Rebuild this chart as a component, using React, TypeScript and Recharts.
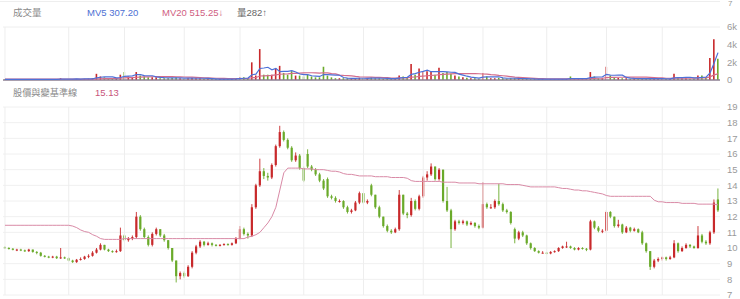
import { Bar, Cell, ComposedChart, CartesianGrid, Line, ReferenceLine, XAxis, YAxis } from "recharts";

// price candles (TWD)
const opens = [
  10.05, 10.0, 9.95, 9.85, 9.9, 9.85, 9.8, 9.9, 9.75, 9.7,
  9.5, 9.45, 9.4, 9.45, 9.35, 9.4, 9.35, 9.2, 9.1, 9.25,
  9.3, 9.45, 9.5, 9.7, 9.9, 10.2, 9.9, 9.8, 9.75, 9.8,
  10.8, 10.5, 10.6, 10.7, 12.0, 11.2, 10.7, 10.2, 10.9, 11.2,
  10.8, 10.5, 10.0, 9.2, 8.2, 8.4, 8.2, 8.8, 9.7, 10.1,
  10.4, 10.2, 10.3, 10.2, 10.15, 10.2, 10.25, 10.2, 10.3, 10.6,
  11.2, 10.9, 10.8, 12.6, 14.0, 14.9, 14.6, 14.5, 15.3, 16.5,
  17.4, 16.9, 16.4, 15.6, 15.9, 15.1, 16.0, 15.2, 15.0, 14.7,
  14.3, 14.4, 13.3, 13.2, 13.0, 13.0, 12.6, 12.3, 12.4, 12.9,
  13.5, 12.9, 14.0, 13.4, 12.6, 12.0, 11.4, 11.1, 11.0, 11.2,
  13.4, 12.2, 12.1, 13.0, 12.5, 13.3, 14.5, 14.7, 15.2, 14.4,
  15.0, 13.0, 12.4, 11.2, 11.7, 11.6, 11.7, 11.5, 11.6, 11.4,
  11.3, 12.8, 12.6, 12.6, 13.0, 12.8, 12.4, 12.3, 11.2, 10.6,
  11.0, 10.8, 10.3, 10.0, 9.8, 9.7, 9.7, 9.65, 9.75, 9.8,
  10.0, 10.1, 10.1, 10.0, 9.9, 10.0, 9.95, 9.9, 11.7, 11.3,
  11.1, 11.1, 12.3, 12.0, 11.4, 11.5, 11.0, 11.3, 11.1, 11.2,
  11.0, 10.3, 9.8, 8.8, 9.2, 9.3, 9.4, 9.3, 9.4, 10.3,
  9.8, 10.0, 10.2, 10.1, 10.0, 10.8, 10.4, 10.3, 11.0, 13.1,
];
const highs = [
  10.1, 10.05, 10.0, 9.95, 9.95, 9.9, 9.95, 9.9, 9.8, 9.75,
  9.55, 9.5, 9.5, 9.5, 10.0, 9.45, 9.4, 9.25, 9.3, 9.4,
  9.5, 9.6, 9.8, 10.0, 10.3, 10.2, 9.95, 9.85, 9.9, 11.3,
  10.9, 10.7, 10.8, 12.3, 12.1, 11.3, 10.8, 11.0, 11.3, 11.2,
  10.9, 10.5, 10.0, 9.2, 8.5, 8.5, 8.9, 9.8, 10.2, 10.5,
  10.45, 10.4, 10.35, 10.25, 10.25, 10.3, 10.3, 10.35, 10.7, 11.4,
  11.3, 11.0, 12.8, 14.1, 15.7, 15.1, 14.8, 15.4, 16.6, 17.8,
  17.5, 17.0, 16.5, 16.1, 16.0, 15.2, 16.3, 15.3, 15.1, 14.8,
  14.4, 14.5, 13.4, 13.3, 13.1, 13.05, 12.7, 12.5, 13.0, 13.6,
  13.5, 13.1, 14.1, 13.4, 12.7, 12.0, 11.5, 11.2, 11.3, 13.7,
  13.4, 12.3, 13.2, 13.1, 13.4, 14.6, 14.9, 15.4, 15.2, 15.1,
  15.0, 13.9, 12.5, 11.8, 11.8, 11.8, 11.75, 11.7, 11.65, 11.5,
  14.2, 12.9, 12.8, 13.1, 14.1, 12.9, 12.5, 12.35, 11.3, 11.1,
  11.1, 10.85, 10.35, 10.05, 9.85, 9.8, 9.75, 9.8, 9.85, 10.05,
  10.15, 10.4, 10.15, 10.05, 10.05, 10.05, 10.0, 11.8, 11.75, 11.4,
  11.2, 12.4, 12.35, 12.0, 11.8, 11.55, 11.4, 11.35, 11.3, 11.25,
  11.1, 10.35, 9.8, 9.3, 9.4, 9.45, 9.45, 9.5, 10.5, 10.35,
  10.1, 10.3, 10.25, 10.15, 11.4, 10.9, 10.5, 11.1, 13.1, 13.8,
];
const lows = [
  9.95, 9.9, 9.85, 9.8, 9.8, 9.75, 9.75, 9.7, 9.6, 9.45,
  9.4, 9.35, 9.35, 9.3, 9.3, 9.3, 9.15, 9.05, 9.05, 9.2,
  9.25, 9.35, 9.45, 9.65, 9.85, 9.85, 9.75, 9.7, 9.7, 9.75,
  10.4, 10.4, 10.5, 10.6, 11.1, 10.6, 10.1, 10.1, 10.8, 10.7,
  10.4, 9.9, 9.1, 7.8, 8.0, 8.1, 8.15, 8.7, 9.6, 10.0,
  10.1, 10.15, 10.1, 10.1, 10.1, 10.15, 10.15, 10.15, 10.25, 10.55,
  10.8, 10.6, 10.7, 12.5, 13.9, 14.4, 14.3, 14.4, 15.2, 16.4,
  16.8, 16.3, 15.5, 15.5, 15.0, 14.2, 15.1, 14.9, 14.6, 14.2,
  13.7, 13.2, 13.1, 12.9, 12.9, 12.5, 12.2, 12.2, 12.35, 12.8,
  12.8, 12.8, 13.3, 12.5, 11.9, 11.3, 11.0, 10.9, 10.95, 11.1,
  12.1, 11.9, 12.0, 12.4, 12.4, 13.2, 14.3, 14.6, 14.3, 14.3,
  12.9, 12.3, 10.0, 11.1, 11.5, 11.5, 11.4, 11.45, 11.3, 11.2,
  11.25, 12.5, 12.5, 12.5, 12.7, 12.3, 12.2, 11.5, 10.3, 10.5,
  10.7, 10.2, 9.9, 9.75, 9.65, 9.65, 9.6, 9.6, 9.7, 9.75,
  9.95, 10.0, 9.95, 9.85, 9.85, 9.9, 9.8, 9.85, 11.2, 11.0,
  10.95, 11.0, 11.9, 11.3, 11.3, 10.9, 10.95, 11.0, 11.05, 10.95,
  10.2, 9.7, 8.6, 8.7, 9.1, 9.2, 9.2, 9.25, 9.35, 9.7,
  9.75, 9.95, 10.0, 9.95, 9.95, 10.3, 10.2, 10.2, 10.9, 12.3,
];
const closes = [
  10.0, 9.95, 9.9, 9.9, 9.85, 9.8, 9.9, 9.75, 9.7, 9.5,
  9.45, 9.4, 9.45, 9.35, 9.4, 9.35, 9.2, 9.1, 9.25, 9.3,
  9.45, 9.5, 9.7, 9.9, 10.2, 9.9, 9.8, 9.75, 9.8, 10.8,
  10.5, 10.6, 10.7, 12.0, 11.2, 10.7, 10.2, 10.9, 11.2, 10.8,
  10.5, 10.0, 9.2, 8.2, 8.4, 8.2, 8.8, 9.7, 10.1, 10.4,
  10.2, 10.3, 10.2, 10.15, 10.2, 10.25, 10.2, 10.3, 10.6, 11.2,
  10.9, 10.8, 12.6, 14.0, 14.9, 14.6, 14.5, 15.3, 16.5, 17.4,
  16.9, 16.4, 15.6, 15.9, 15.1, 14.3, 15.2, 15.0, 14.7, 14.3,
  13.8, 13.3, 13.2, 13.0, 13.0, 12.6, 12.3, 12.4, 12.9, 13.5,
  12.9, 13.0, 13.4, 12.6, 12.0, 11.4, 11.1, 11.0, 11.2, 13.4,
  12.2, 12.1, 13.0, 12.5, 13.3, 14.5, 14.7, 15.2, 14.4, 15.0,
  13.0, 12.4, 11.2, 11.7, 11.6, 11.7, 11.5, 11.6, 11.4, 11.3,
  12.8, 12.6, 12.6, 13.0, 12.8, 12.4, 12.3, 11.6, 10.6, 11.0,
  10.8, 10.3, 10.0, 9.8, 9.7, 9.7, 9.65, 9.75, 9.8, 10.0,
  10.1, 10.1, 10.0, 9.9, 10.0, 9.95, 9.9, 11.7, 11.3, 11.1,
  11.1, 12.3, 12.0, 11.4, 11.5, 11.0, 11.3, 11.1, 11.2, 11.0,
  10.3, 9.8, 8.8, 9.2, 9.3, 9.4, 9.3, 9.4, 10.3, 9.8,
  10.0, 10.2, 10.1, 10.0, 10.8, 10.4, 10.3, 11.0, 12.9, 12.4,
];
// 變基準線
const baseLine = [
  11.45, 11.45, 11.45, 11.45, 11.45, 11.45, 11.45, 11.45, 11.45, 11.45,
  11.45, 11.45, 11.45, 11.45, 11.45, 11.45, 11.45, 11.4, 11.3, 11.15,
  11.05, 11.0, 10.85, 10.75, 10.6, 10.55, 10.55, 10.55, 10.55, 10.55,
  10.6, 10.6, 10.6, 10.6, 10.6, 10.6, 10.6, 10.6, 10.6, 10.6,
  10.6, 10.6, 10.6, 10.6, 10.6, 10.6, 10.6, 10.6, 10.6, 10.6,
  10.6, 10.6, 10.6, 10.6, 10.6, 10.6, 10.6, 10.6, 10.6, 10.6,
  10.6, 10.7, 10.75, 10.85, 11.0, 11.3, 11.6, 12.0, 12.6, 13.7,
  14.8, 15.1, 15.1, 15.1, 15.1, 15.05, 15.05, 15.05, 15.0, 15.0,
  15.0, 14.95, 14.9, 14.9, 14.85, 14.75, 14.7, 14.7, 14.65, 14.6,
  14.6, 14.6, 14.6, 14.55, 14.55, 14.55, 14.55, 14.5, 14.5, 14.5,
  14.5, 14.45, 14.3, 14.25, 14.25, 14.25, 14.25, 14.25, 14.25, 14.25,
  14.2, 14.2, 14.2, 14.2, 14.15, 14.15, 14.15, 14.15, 14.15, 14.1,
  14.1, 14.1, 14.1, 14.1, 14.1, 14.1, 14.05, 14.05, 14.05, 14.05,
  14.0, 13.95, 13.9, 13.9, 13.9, 13.9, 13.9, 13.9, 13.9, 13.85,
  13.8, 13.8, 13.75, 13.7, 13.7, 13.65, 13.65, 13.6, 13.55, 13.5,
  13.45, 13.35, 13.3, 13.3, 13.3, 13.3, 13.3, 13.3, 13.3, 13.3,
  13.3, 13.3, 13.3, 13.05, 12.95, 12.95, 12.9, 12.9, 12.9, 12.9,
  12.85, 12.85, 12.85, 12.85, 12.8, 12.8, 12.8, 12.8, 12.8, 12.75,
];
// 成交量 (k)
const volumes = [
  0.1, 0.08, 0.08, 0.07, 0.07, 0.08, 0.09, 0.08, 0.07, 0.09,
  0.08, 0.07, 0.07, 0.08, 0.2, 0.08, 0.1, 0.1, 0.1, 0.1,
  0.12, 0.15, 0.2, 0.7, 0.4, 0.3, 0.2, 0.15, 0.15, 0.6,
  0.9, 0.4, 0.3, 0.9, 0.5, 0.4, 0.3, 0.3, 0.3, 0.2,
  0.2, 0.2, 0.25, 0.3, 0.2, 0.15, 0.2, 0.25, 0.2, 0.2,
  0.15, 0.12, 0.1, 0.1, 0.1, 0.1, 0.1, 0.12, 0.2, 0.3,
  0.3, 0.2, 2.0, 0.5, 3.5, 0.6, 0.6, 0.6, 1.3, 1.6,
  0.8, 0.6, 1.0, 0.5, 0.5, 0.4, 0.6, 0.4, 0.3, 0.3,
  1.5, 0.5, 0.3, 0.2, 0.2, 0.2, 0.2, 0.15, 0.2, 0.25,
  0.2, 0.15, 0.3, 0.2, 0.2, 0.15, 0.15, 0.12, 0.15, 0.5,
  0.4, 0.3, 1.8, 0.6, 1.3, 0.9, 1.0, 0.9, 0.6, 1.4,
  0.8, 0.9, 0.7, 0.5, 0.4, 0.3, 0.25, 0.2, 0.2, 0.15,
  0.8, 0.4, 0.2, 0.2, 0.25, 0.2, 0.15, 0.2, 0.2, 0.15,
  0.15, 0.12, 0.1, 0.1, 0.1, 0.1, 0.1, 0.1, 0.1, 0.1,
  0.1, 0.12, 0.4, 0.1, 0.1, 0.1, 0.1, 0.9, 0.4, 0.2,
  0.2, 1.5, 0.5, 0.3, 0.25, 0.2, 0.2, 0.15, 0.15, 0.15,
  0.15, 0.15, 0.2, 0.15, 0.12, 0.12, 0.1, 0.12, 0.7, 0.3,
  0.2, 0.2, 0.15, 0.15, 0.5, 0.5, 0.3, 2.5, 4.6, 2.4,
];
const mv5 = [
  0.08, 0.08, 0.08, 0.08, 0.08, 0.08, 0.08, 0.08, 0.08, 0.08,
  0.08, 0.08, 0.08, 0.08, 0.1, 0.1, 0.1, 0.1, 0.12, 0.1,
  0.12, 0.13, 0.13, 0.25, 0.31, 0.35, 0.37, 0.35, 0.24, 0.28,
  0.4, 0.44, 0.47, 0.62, 0.6, 0.5, 0.48, 0.48, 0.36, 0.3,
  0.26, 0.24, 0.23, 0.23, 0.23, 0.22, 0.22, 0.22, 0.2, 0.2,
  0.2, 0.18, 0.15, 0.13, 0.11, 0.1, 0.1, 0.1, 0.12, 0.16,
  0.2, 0.22, 0.6, 0.66, 1.3, 1.36, 1.44, 1.16, 1.32, 0.94,
  0.98, 0.98, 1.06, 0.9, 0.68, 0.6, 0.6, 0.48, 0.44, 0.4,
  0.62, 0.6, 0.58, 0.56, 0.54, 0.28, 0.22, 0.19, 0.19, 0.2,
  0.2, 0.19, 0.22, 0.22, 0.21, 0.2, 0.18, 0.15, 0.15, 0.21,
  0.26, 0.3, 0.63, 0.72, 0.88, 0.98, 1.12, 0.94, 0.94, 0.96,
  0.94, 0.92, 0.88, 0.86, 0.66, 0.56, 0.43, 0.33, 0.27, 0.22,
  0.32, 0.35, 0.35, 0.35, 0.37, 0.25, 0.2, 0.2, 0.2, 0.18,
  0.17, 0.16, 0.14, 0.12, 0.11, 0.1, 0.1, 0.1, 0.1, 0.1,
  0.1, 0.1, 0.16, 0.16, 0.16, 0.16, 0.16, 0.26, 0.32, 0.34,
  0.36, 0.64, 0.56, 0.54, 0.55, 0.55, 0.29, 0.22, 0.19, 0.17,
  0.16, 0.15, 0.16, 0.16, 0.15, 0.15, 0.14, 0.12, 0.23, 0.27,
  0.28, 0.3, 0.31, 0.24, 0.24, 0.3, 0.32, 0.79, 1.9, 3.1,
];
const mv20 = [
  0.09, 0.09, 0.09, 0.09, 0.09, 0.09, 0.09, 0.09, 0.09, 0.09,
  0.09, 0.09, 0.09, 0.09, 0.09, 0.09, 0.09, 0.09, 0.09, 0.09,
  0.09, 0.09, 0.09, 0.12, 0.14, 0.15, 0.16, 0.17, 0.17, 0.2,
  0.24, 0.26, 0.27, 0.31, 0.33, 0.35, 0.36, 0.37, 0.38, 0.38,
  0.38, 0.38, 0.38, 0.37, 0.35, 0.34, 0.33, 0.32, 0.3, 0.27,
  0.25, 0.24, 0.22, 0.2, 0.19, 0.18, 0.17, 0.17, 0.17, 0.17,
  0.17, 0.17, 0.26, 0.28, 0.45, 0.47, 0.5, 0.52, 0.58, 0.65,
  0.68, 0.7, 0.74, 0.76, 0.78, 0.8, 0.82, 0.82, 0.8, 0.78,
  0.82, 0.8, 0.72, 0.7, 0.55, 0.52, 0.5, 0.46, 0.4, 0.36,
  0.34, 0.33, 0.32, 0.3, 0.3, 0.28, 0.27, 0.22, 0.22, 0.23,
  0.24, 0.25, 0.32, 0.34, 0.4, 0.44, 0.48, 0.52, 0.54, 0.6,
  0.63, 0.67, 0.7, 0.72, 0.73, 0.73, 0.73, 0.73, 0.72, 0.71,
  0.68, 0.67, 0.6, 0.57, 0.52, 0.48, 0.43, 0.38, 0.33, 0.3,
  0.27, 0.24, 0.21, 0.18, 0.15, 0.15, 0.14, 0.13, 0.12, 0.12,
  0.12, 0.12, 0.13, 0.13, 0.13, 0.13, 0.13, 0.17, 0.19, 0.2,
  0.2, 0.27, 0.29, 0.3, 0.31, 0.31, 0.32, 0.32, 0.32, 0.32,
  0.32, 0.32, 0.3, 0.27, 0.25, 0.24, 0.2, 0.2, 0.22, 0.22,
  0.22, 0.22, 0.22, 0.22, 0.23, 0.25, 0.25, 0.36, 0.58, 0.7,
];
// first trading day of each month (grid lines)
const monthStarts = [0, 16, 30, 45, 59, 75, 90, 105, 120, 136, 151, 165];
const priceTicks = [7, 8, 9, 10, 11, 12, 13, 14, 15, 16, 17, 18, 19];
const volTicks = [0, 2, 4, 6];

const RED = "#c8292b";
const GREEN = "#6aaa2a";
const FONT = "'Liberation Sans', 'Noto Sans CJK TC', Arial, sans-serif";
const tickStyle = { fontSize: 9.5, fill: "#9a9a9a", fontFamily: FONT };

const data = closes.map((c, i) => ({
  i,
  o: opens[i],
  h: highs[i],
  l: lows[i],
  c,
  range: [lows[i], highs[i]],
  v: volumes[i],
  mv5: mv5[i],
  mv20: mv20[i],
  base: baseLine[i],
}));

const Candle = (props: any) => {
  const { x, y, width, height, payload } = props;
  if (x == null || y == null || height == null) return null;
  const top = Math.min(y, y + height);
  const span = Math.abs(height);
  const { o, h, l, c } = payload;
  const toY = (v: number) => (h === l ? top : top + ((h - v) / (h - l)) * span);
  const color = c >= o ? RED : GREEN;
  const cx = x + width / 2;
  const bt = toY(Math.max(o, c));
  const bb = toY(Math.min(o, c));
  const bw = 2.2;
  return (
    <g>
      <line x1={cx} x2={cx} y1={top} y2={top + span} stroke={color} strokeWidth={0.9} />
      <rect x={cx - bw / 2} y={bt} width={bw} height={Math.max(1, bb - bt)} fill={color} />
    </g>
  );
};

const label = (left: number, top: number, color: string, size = 9.5) => ({
  position: "absolute" as const,
  left,
  top,
  color,
  fontSize: size,
  fontFamily: FONT,
  whiteSpace: "nowrap" as const,
  lineHeight: "12px",
});

export default function App() {
  return (
    <div style={{ position: "absolute", left: 0, top: 0, width: 740, height: 299, background: "#fff", overflow: "hidden" }}>
      <div style={{ position: "absolute", left: 0, top: 1, width: 720, height: 1, background: "#eeeeee" }} />
      <div style={label(728, -2, "#9a9a9a", 8)}>7</div>

      <div style={label(13, 7, "#8a8a8a")}>成交量</div>
      <div style={label(87, 7, "#4c6fd3")}>MV5 307.20</div>
      <div style={label(162, 7, "#d0607f")}>MV20 515.25↓</div>
      <div style={label(237, 7, "#666666")}>量282↑</div>

      <div style={{ position: "absolute", left: 0, top: 0 }}>
        <ComposedChart width={740} height={90} data={data} margin={{ top: 27, right: 0, bottom: 10, left: 3 }}>
          <XAxis dataKey="i" hide />
          <YAxis
            orientation="right"
            width={20}
            domain={[0, 6]}
            ticks={volTicks}
            interval={0}
            tickFormatter={(v: number) => (v === 0 ? "0" : `${v}k`)}
            axisLine={false}
            tickLine={false}
            tickSize={0}
            tickMargin={7}
            tick={tickStyle}
          />
          {monthStarts.map((m) => (
            <ReferenceLine key={m} x={m} stroke="#eeeeee" />
          ))}
          <ReferenceLine y={6} stroke="#eeeeee" />
          <Bar dataKey="v" barSize={1.6} isAnimationActive={false}>
            {data.map((d) => (
              <Cell key={d.i} fill={d.c >= d.o ? RED : GREEN} />
            ))}
          </Bar>
          <ReferenceLine y={0} stroke="#8d7f92" strokeWidth={1.5} />
          <Line dataKey="mv20" stroke="#d46d8c" strokeWidth={1.2} dot={false} isAnimationActive={false} />
          <Line dataKey="mv5" stroke="#4d70d8" strokeWidth={1.2} dot={false} isAnimationActive={false} />
        </ComposedChart>
      </div>

      <div style={label(13, 87, "#8a8a8a", 9.2)}>股價與變基準線</div>
      <div style={label(95, 87, "#c8557a")}>15.13</div>

      <div style={{ position: "absolute", left: 0, top: 90 }}>
        <ComposedChart width={740} height={209} data={data} margin={{ top: 17, right: 0, bottom: 4, left: 3 }}>
          <CartesianGrid horizontal vertical={false} stroke="#f0f0f0" />
          <XAxis dataKey="i" hide />
          <YAxis
            orientation="right"
            width={20}
            domain={[7, 19]}
            ticks={priceTicks}
            interval={0}
            axisLine={false}
            tickLine={false}
            tickSize={0}
            tickMargin={7}
            tick={tickStyle}
          />
          {monthStarts.map((m) => (
            <ReferenceLine key={m} x={m} stroke="#eeeeee" />
          ))}
          <Line dataKey="base" stroke="#d98aa6" strokeWidth={1} dot={false} isAnimationActive={false} />
          <Bar dataKey="range" shape={<Candle />} isAnimationActive={false} />
        </ComposedChart>
      </div>
    </div>
  );
}
